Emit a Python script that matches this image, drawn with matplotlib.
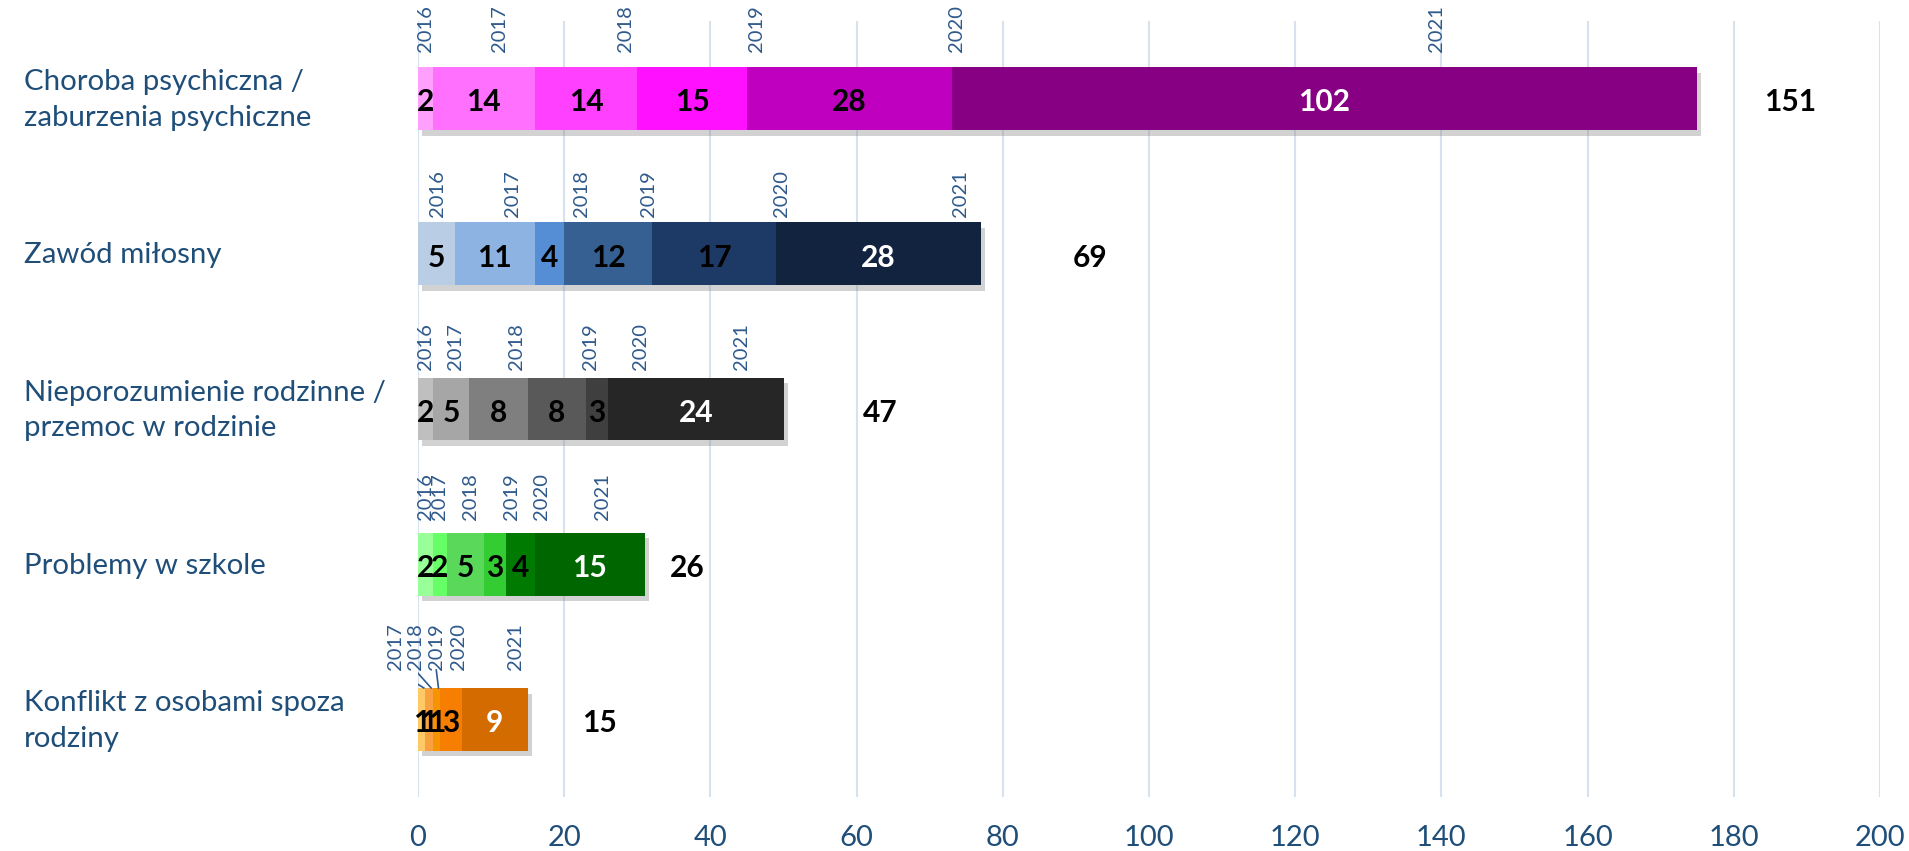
import matplotlib.pyplot as plt
import matplotlib.patheffects as pe

# data
categories = ['Choroba psychiczna /\nzaburzenia psychiczne', 'Zawód miłosny',
              'Nieporozumienie rodzinne /\nprzemoc w rodzinie', 'Problemy w szkole',
              'Konflikt z osobami spoza\nrodziny']
years = ['2016', '2017', '2018', '2019', '2020', '2021']

choroba = [2, 14, 14, 15, 28, 102]
zawod = [5, 11, 4, 12, 17, 28]
nieporozumienie = [2, 5, 8, 8, 3, 24]
szkola = [2, 2, 5, 3, 4, 15]
konflikt = [0, 1, 1, 1, 3, 9]   # no 2016 value
totals = [151, 69, 47, 26, 15]

# where the labels sit
year_label_x = [
    [1.0, 11.1, 28.4, 46.3, 73.7, 139.3],
    [2.6, 12.9, 22.3, 31.6, 49.7, 74.2],
    [1.0, 5.1, 13.5, 23.6, 30.4, 44.2],
    [1.0, 2.9, 7.2, 12.8, 16.9, 25.3],
    [None, -3.1, -0.4, 2.5, 5.5, 13.3],
]
year_gap_px = [15, 5, 8, 13, 18]
total_label_x = [187.7, 92, 63.2, 36.9, 24.8]

colors = [
    ['#FFA0FF', '#FF70FF', '#FF40FF', '#FF10FF', '#C000BF', '#870083'],
    ['#B9CDE5', '#8DB3E2', '#558ED5', '#376092', '#1D3A66', '#12233F'],
    ['#BFBFBF', '#A6A6A6', '#7F7F7F', '#595959', '#3F3F3F', '#262626'],
    ['#99FF99', '#66FF66', '#5AD85A', '#33CC33', '#007A00', '#006600'],
    ['#FFFFFF', '#FFC966', '#F9A041', '#F59300', '#F67E00', '#D46B00'],
]

rows = [choroba, zawod, nieporozumienie, szkola, konflikt]

plt.rcParams['font.family'] = ['Lato', 'DejaVu Sans']
blue_txt = '#1F4E79'
year_txt = '#2F5A8C'

fig = plt.figure(figsize=(19.09, 8.51), dpi=100)
ax = fig.add_axes([418 / 1909, 1 - 797 / 851, (1880 - 418) / 1909, (797 - 21) / 851])

h = 0.405
px_per_y = 155.4  # pixels per category step
dy = 0.025        # numbers sit a touch below the bar middle

shadow = [pe.SimplePatchShadow(offset=(3, -4), shadow_rgbFace='#808080', alpha=0.35), pe.Normal()]

for i, vals in enumerate(rows):
    left = 0
    top = i - h / 2
    for j, v in enumerate(vals):
        if v == 0:
            continue
        b = ax.barh(i, v, left=left, height=h, color=colors[i][j], zorder=3)
        for p in b:
            p.set_path_effects(shadow)
        last = j == len(vals) - 1
        ax.text(left + v / 2, i + dy, str(v), ha='center', va='center', fontsize=21.5,
                fontweight='bold', color='white' if last else 'black', zorder=5)
        lx = year_label_x[i][j]
        ly = top - year_gap_px[i] / px_per_y
        ax.text(lx, ly, years[j], rotation=90, ha='center', va='bottom',
                fontsize=14.5, color=year_txt, zorder=5)
        # leader lines for the crowded small segments
        if i == 4 and j in (1, 2, 3):
            ax.plot([lx, left + v / 2 + 0.3], [ly, top], color=year_txt, lw=1.2, zorder=4)
        left += v
    ax.text(total_label_x[i], i + dy, str(totals[i]), ha='center', va='center',
            fontsize=21.5, fontweight='bold', color='black', zorder=5)

# category names on the left
for i, c in enumerate(categories):
    ax.text(-53.9, i + 0.01, c, ha='left', va='center', fontsize=21.2,
            color=blue_txt, linespacing=1.45)

ax.set_xlim(0, 200)
ax.set_ylim(4.5, -0.5)
ax.set_xticks(range(0, 201, 20))
ax.set_yticks([])
ax.xaxis.grid(True, color='#D6E2F0', lw=1.5, zorder=0)
ax.set_axisbelow(True)
for s in ax.spines.values():
    s.set_visible(False)
ax.tick_params(axis='x', length=0, pad=20, labelsize=21, labelcolor=blue_txt)

fig.savefig('out.png', dpi=100)
